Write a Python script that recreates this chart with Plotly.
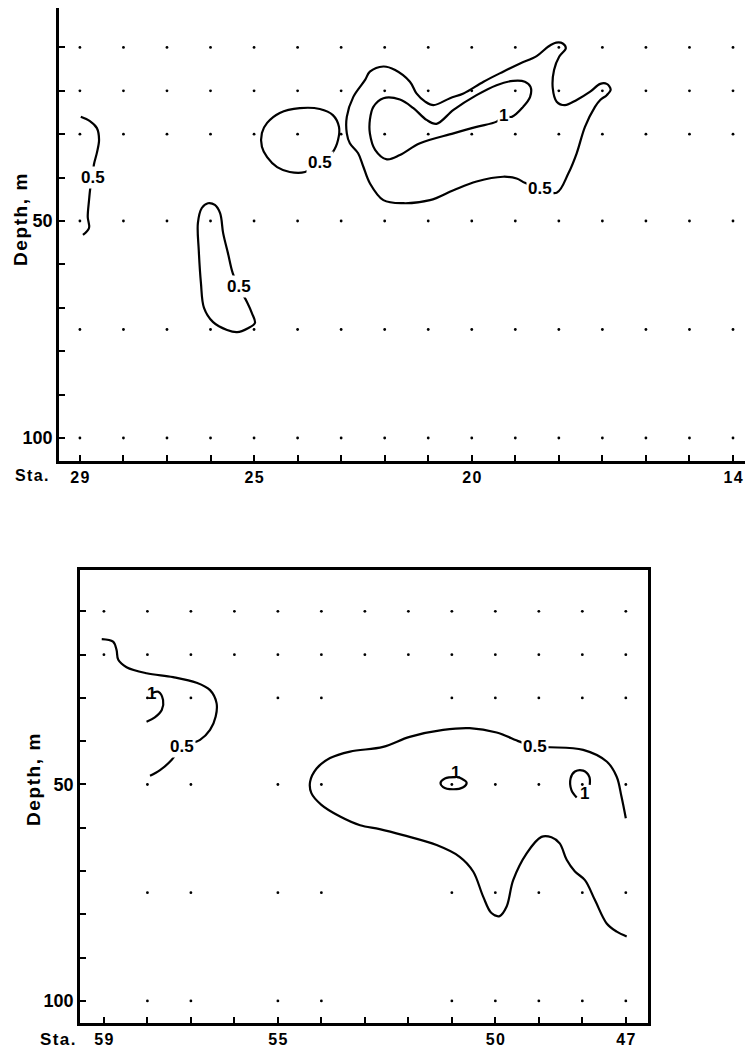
import plotly.graph_objects as go

W, H = 753, 1049
OFF = 8  # default page margin of the html body

# ---------------- Sampling grid ----------------
top_stations = [29, 28, 27, 26, 25, 24, 23, 22, 21, 20, 19, 18, 17, 16, 15, 14]
top_depths = [10, 20, 30, 50, 75, 100]

bot_stations_all = [59, 58, 57, 56, 55, 54, 53, 52, 51, 50, 49, 48, 47]
bot_depths_shallow = [10, 20]
bot_stations_deep = [58, 57, 55, 54, 51, 50, 49, 48, 47]
bot_depths_deep = [30, 50, 75, 100]

# ---------------- Isolines (station, depth m) ----------------
# Top section
iso_t1_sta = [28.98, 28.77, 28.61, 28.56, 28.61, 28.68, 28.70, 28.75, 28.79, 28.82, 28.79, 28.93]
iso_t1_dep = [26.0, 27.0, 28.6, 31.3, 34.3, 37.1, 39.9, 41.7, 45.2, 49.1, 51.6, 53.2]

iso_t2_sta = [23.49, 23.19, 23.07, 23.05, 23.19, 23.49, 23.95, 24.41, 24.70, 24.82, 24.82, 24.70,
              24.47, 24.18, 23.83, 23.49]
iso_t2_dep = [36.6, 34.1, 31.3, 28.3, 25.6, 24.2, 24.0, 25.1, 27.4, 29.7, 32.9, 35.3,
              37.6, 38.7, 38.7, 36.6]

iso_t3_sta = [24.98, 25.05, 25.16, 25.35, 25.49, 25.60, 25.71, 25.78, 25.90, 26.06, 26.20, 26.29,
              26.27, 26.22, 26.15, 25.94, 25.62, 25.39, 25.14, 24.98]
iso_t3_dep = [73.5, 71.2, 68.7, 65.2, 62.0, 57.4, 52.8, 48.2, 46.3, 45.9, 47.0, 50.5,
              56.7, 64.3, 70.0, 73.3, 75.1, 75.6, 74.7, 73.5]

iso_t4_sta = [18.43, 18.05, 17.78, 17.59, 17.40, 17.17, 17.05, 16.90, 16.81, 16.90, 17.05, 17.28,
              17.59, 17.86, 18.05, 18.14, 18.11, 17.99, 17.84, 17.91, 18.06, 18.24, 18.51,
              18.89, 19.28, 19.73, 20.19, 20.50, 20.88, 21.07, 21.27, 21.42, 21.76, 22.03,
              22.34, 22.45, 22.72, 22.87, 22.87, 22.80, 22.61, 22.49, 22.34, 22.03, 21.57,
              20.96, 20.42, 19.89, 19.28, 18.97, 18.78, 18.43]
iso_t4_dep = [42.6, 43.5, 39.0, 34.4, 28.3, 23.7, 22.1, 21.0, 19.7, 18.4, 18.4, 20.2,
              22.1, 23.3, 22.5, 19.4, 15.2, 12.1, 10.2, 9.1, 8.9, 9.8, 12.0,
              13.7, 15.6, 17.9, 20.6, 21.7, 23.3, 22.5, 20.6, 17.9, 15.2, 14.4,
              15.6, 17.5, 21.4, 26.0, 29.8, 32.1, 34.4, 37.5, 41.3, 45.2, 45.9,
              45.2, 42.9, 40.9, 39.8, 40.2, 41.2, 42.6]

iso_t5_sta = [19.28, 19.08, 18.82, 18.66, 18.65, 18.78, 19.05, 19.43, 19.89, 20.42, 20.81, 21.04,
              21.34, 21.65, 22.03, 22.26, 22.34, 22.34, 22.22, 21.95, 21.65, 21.19, 20.42,
              19.89, 19.43, 19.28]
iso_t5_dep = [25.8, 26.0, 23.7, 21.4, 19.1, 17.9, 17.7, 18.7, 21.0, 24.4, 27.6, 26.7,
              24.0, 22.0, 21.7, 23.7, 26.7, 29.8, 33.6, 35.8, 34.8, 32.1, 29.8,
              28.3, 27.1, 25.8]

# Bottom section
iso_b1_sta = [59.05, 58.79, 58.71, 58.67, 58.48, 58.02, 57.41, 56.87, 56.56, 56.41, 56.43, 56.56,
              56.79, 57.21, 57.44, 57.71, 57.94]
iso_b1_dep = [16.4, 17.0, 18.9, 21.2, 22.9, 24.3, 25.2, 26.5, 28.2, 31.2, 34.3, 37.4,
              39.7, 41.3, 44.3, 46.7, 48.0]

iso_b2_sta = [57.90, 57.75, 57.64, 57.67, 57.83, 58.02]
iso_b2_dep = [28.9, 28.6, 30.5, 32.8, 34.5, 35.5]

iso_b3_sta = [47.0, 47.10, 47.21, 47.44, 47.98, 48.75, 49.09, 49.44, 49.97, 50.59, 51.20, 51.97,
              52.58, 53.34, 53.80, 54.11, 54.26, 54.23, 54.00, 53.57, 53.11, 52.66, 52.12,
              51.35, 50.82, 50.51, 50.28, 50.09, 49.90, 49.74, 49.59, 49.28, 48.94, 48.71,
              48.52, 48.36, 48.17, 47.94, 47.71, 47.44, 47.21, 46.98]
iso_b3_dep = [57.8, 52.8, 48.2, 44.7, 42.0, 41.4, 41.3, 40.1, 38.0, 37.0, 37.4, 39.0,
              41.3, 42.4, 43.9, 46.3, 49.4, 52.0, 54.7, 57.4, 59.4, 60.3, 61.7,
              64.0, 66.7, 70.1, 75.9, 79.7, 80.4, 78.2, 72.1, 65.9, 62.1, 62.2,
              63.6, 67.4, 70.1, 72.1, 76.7, 82.1, 84.0, 85.1]

iso_b4_sta = [50.91, 51.16, 51.26, 51.20, 50.98, 50.75, 50.66, 50.78, 50.88]
iso_b4_dep = [48.3, 48.6, 49.6, 50.6, 51.1, 50.7, 49.6, 48.6, 48.3]

iso_b5_sta = [48.13, 48.25, 48.27, 48.17, 47.98, 47.84, 47.83]
iso_b5_dep = [53.0, 51.3, 48.6, 47.0, 46.8, 48.2, 50.1]

# ---------------- Isoline labels ----------------
top_lbl_text = ["0.5", "0.5", "0.5", "0.5", "1"]
top_lbl_sta = [28.70, 23.49, 25.35, 18.43, 19.28]
top_lbl_dep = [39.9, 36.6, 65.2, 42.6, 25.8]

bot_lbl_text = ["1", "0.5", "0.5", "1", "1"]
bot_lbl_sta = [57.90, 57.21, 49.09, 50.91, 47.96]
bot_lbl_dep = [28.9, 41.3, 41.3, 47.2, 52.0]

# ---------------- Axis labels ----------------
top_xtick_vals = top_stations
top_xtick_text = ["29", "", "", "", "25", "", "", "", "", "20", "", "", "", "", "", "14"]
bot_xtick_vals = bot_stations_all
bot_xtick_text = ["59", "", "", "", "55", "", "", "", "", "50", "", "", "47"]
depth_tick_vals = [0, 10, 20, 30, 40, 50, 60, 70, 80, 90, 100]
depth_tick_text = ["", "", "", "", "", "50", "", "", "", "", "100"]
y_title = "Depth, m"
x_title = "Sta."

# ---------------- Figure ----------------
FONT = "Liberation Sans, Arial"
HS = "\u200a"  # hair space for the letter-spaced look


def spaced(s):
    return HS.join(list(s))


def fx(rx):
    return (rx - OFF) / W


def fy(ry):
    return 1 - (ry - OFF) / H


fig = go.Figure()


def add_grid(stations, depths, xa, ya):
    xs, ys = [], []
    for d in depths:
        for s in stations:
            xs.append(s)
            ys.append(d)
    fig.add_trace(go.Scatter(x=xs, y=ys, mode="markers", xaxis=xa, yaxis=ya,
                             marker=dict(size=2.8, color="black"), hoverinfo="skip"))


def add_iso(sta, dep, xa, ya):
    fig.add_trace(go.Scatter(x=sta, y=dep, mode="lines", xaxis=xa, yaxis=ya,
                             line=dict(color="black", width=2.2, shape="spline", smoothing=1.0),
                             hoverinfo="skip"))


add_grid(top_stations, top_depths, "x", "y")
add_grid(bot_stations_all, bot_depths_shallow, "x2", "y2")
add_grid(bot_stations_deep, bot_depths_deep, "x2", "y2")

for s, d in [(iso_t1_sta, iso_t1_dep), (iso_t2_sta, iso_t2_dep), (iso_t3_sta, iso_t3_dep),
             (iso_t4_sta, iso_t4_dep), (iso_t5_sta, iso_t5_dep)]:
    add_iso(s, d, "x", "y")
for s, d in [(iso_b1_sta, iso_b1_dep), (iso_b2_sta, iso_b2_dep), (iso_b3_sta, iso_b3_dep),
             (iso_b4_sta, iso_b4_dep), (iso_b5_sta, iso_b5_dep)]:
    add_iso(s, d, "x2", "y2")

annotations = []
for t, s, d in zip(top_lbl_text, top_lbl_sta, top_lbl_dep):
    annotations.append(dict(x=s, y=d, xref="x", yref="y", text=f"<b>{t}</b>", showarrow=False,
                            font=dict(family=FONT, size=17, color="black"),
                            bgcolor="white", borderpad=1))
for t, s, d in zip(bot_lbl_text, bot_lbl_sta, bot_lbl_dep):
    annotations.append(dict(x=s, y=d, xref="x2", yref="y2", text=f"<b>{t}</b>", showarrow=False,
                            font=dict(family=FONT, size=17, color="black"),
                            bgcolor="white" if t == "0.5" else "rgba(0,0,0,0)", borderpad=1))

for (x, y), txt, ang, sz in [((20, 220), y_title, -90, 19), ((33, 780), y_title, -90, 19),
                             ((31, 476), x_title, 0, 16), ((57, 1039), x_title, 0, 17)]:
    annotations.append(dict(x=fx(x), y=fy(y), xref="paper", yref="paper",
                            text=f"<b>{spaced(txt)}</b>", showarrow=False, textangle=ang,
                            xanchor="center", yanchor="middle",
                            font=dict(family=FONT, size=sz, color="black")))

axis_common = dict(showgrid=False, zeroline=False, showline=True, linecolor="black", linewidth=2.5,
                   ticks="inside", tickcolor="black", tickwidth=2, ticklen=6, automargin=False)


def xt(lst):
    return [f"<b>{spaced(t)}</b>" if t else "" for t in lst]


def yt(lst):
    return [f"<b>{t}</b>" if t else "" for t in lst]


fig.update_layout(
    width=W, height=H, margin=dict(l=0, r=0, t=0, b=0, pad=0, autoexpand=False),
    paper_bgcolor="white", plot_bgcolor="white", showlegend=False,
    annotations=annotations,
    xaxis=dict(domain=[fx(59), 1.0], range=[29.48, 13.357], anchor="y", mirror=True,
               tickvals=top_xtick_vals, ticktext=xt(top_xtick_text),
               tickfont=dict(family=FONT, size=16, color="black"), **axis_common),
    yaxis=dict(domain=[fy(461), 1.0], range=[105.3, 0.92], anchor="x", mirror=False,
               tickvals=depth_tick_vals, ticktext=yt(depth_tick_text),
               tickfont=dict(family=FONT, size=18, color="black"), **axis_common),
    xaxis2=dict(domain=[fx(80), fx(648)], range=[59.55, 46.49], anchor="y2", mirror=True,
                tickvals=bot_xtick_vals, ticktext=xt(bot_xtick_text),
                tickfont=dict(family=FONT, size=16, color="black"), **axis_common),
    yaxis2=dict(domain=[fy(1023), fy(570)], range=[105.1, 0.45], anchor="x2", mirror=True,
                tickvals=depth_tick_vals, ticktext=yt(depth_tick_text),
                tickfont=dict(family=FONT, size=18, color="black"), **axis_common),
)

fig.write_html("out.html")
